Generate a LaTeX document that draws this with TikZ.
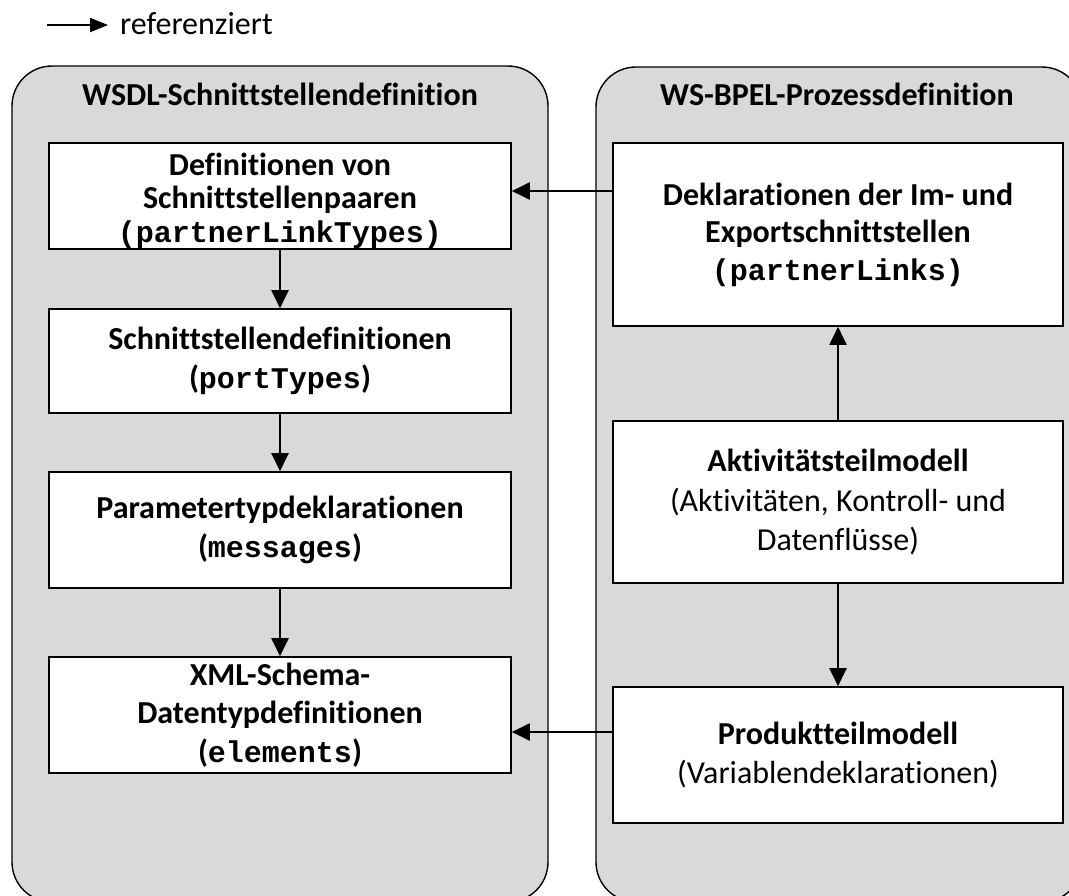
\documentclass[tikz,border=0pt]{standalone}
\usepackage{fontspec}
\setmainfont{Carlito}[Ligatures={NoCommon,NoContextual}]
\setmonofont{Liberation Mono}
\usetikzlibrary{arrows.meta}

\definecolor{panelgray}{HTML}{D9D9D9}

\tikzset{
  panel/.style={draw=black, line width=1.4pt, fill=panelgray, rounded corners=40pt,
    rectangle, inner sep=0pt},
  panelhead/.style={font=\fontsize{32}{38}\selectfont\bfseries, inner sep=0pt, anchor=base},
  part/.style={draw=black, line width=1.6pt, fill=white, rectangle, inner sep=0pt,
    align=center, font=\fontsize{32}{38.5}\selectfont},
  ref/.style={line width=2pt, -{Triangle[length=18pt,width=17pt]}},
}
% identifiers in bold typewriter
\newcommand{\code}[1]{{\fontsize{30}{30}\selectfont\ttfamily\bfseries #1}}

\begin{document}
\begin{tikzpicture}[x=1pt, y=-1pt]
  \useasboundingbox (0,0) rectangle (1069,895);
  \clip (0,0) rectangle (1069,895);

  % legend
  \coordinate (legA) at (47,25);
  \coordinate (legB) at (108,25);
  \draw[line width=2pt, -{Triangle[length=18pt,width=14pt]}] (legA) -- (legB);
  \node[anchor=base west, inner sep=0pt, font=\fontsize{32}{38}\selectfont] (legT) at (120,34) {referenziert};

  % the two panels
  \node[panel, minimum width=536pt, minimum height=836pt] (wsdl) at (280,484) {};
  \node[panel, minimum width=486pt, minimum height=835pt] (bpel) at (839,484.5) {};
  \node[panelhead] (wsdlT) at (280,105) {WSDL-Schnittstellendefinition};
  \node[panelhead] (bpelT) at (837,105) {WS-BPEL-Prozessdefinition};

  % WSDL parts
  \node[part, minimum width=462pt, minimum height=106pt, font=\fontsize{32}{33.5}\selectfont] (plt) at (280,196)
    {\rule{0pt}{32pt}\textbf{Definitionen von}\\\textbf{Schnittstellenpaaren}\\\code{(partnerLinkTypes)}};
  \node[part, minimum width=462pt, minimum height=104pt] (pt) at (280,361)
    {\textbf{Schnittstellendefinitionen}\\\textbf{(\code{portTypes})}};
  \node[part, minimum width=462pt, minimum height=116pt] (msg) at (280,530)
    {\textbf{Parametertypdeklarationen}\\\textbf{(\code{messages})}};
  \node[part, minimum width=462pt, minimum height=116pt] (el) at (280,715)
    {\textbf{XML-Schema-}\\\textbf{Datentypdefinitionen}\\\textbf{(\code{elements})}};

  % WS-BPEL parts
  \node[part, minimum width=450pt, minimum height=183pt, font=\fontsize{32}{37.5}\selectfont] (pl) at (838,234.5)
    {\textbf{Deklarationen der Im- und}\\\textbf{Exportschnittstellen}\\\code{(partnerLinks)}};
  \node[part, minimum width=450pt, minimum height=162pt, font=\fontsize{32}{39.5}\selectfont] (akt) at (838,502)
    {\textbf{Aktivitätsteilmodell}\\(Aktivitäten, Kontroll- und\\Datenflüsse)};
  \node[part, minimum width=450pt, minimum height=136pt] (prod) at (838,755)
    {\textbf{Produktteilmodell}\\(Variablendeklarationen)};

  % references
  \draw[ref] (plt) -- (pt);
  \draw[ref] (pt) -- (msg);
  \draw[ref] (msg) -- (el);
  \draw[ref] (akt) -- (pl);
  \draw[ref] (akt) -- (prod);
  \draw[ref] (pl.west |- 0,191) -- (plt.east |- 0,191);
  \draw[ref] (prod.west |- 0,732) -- (el.east |- 0,732);
\end{tikzpicture}
\end{document}
